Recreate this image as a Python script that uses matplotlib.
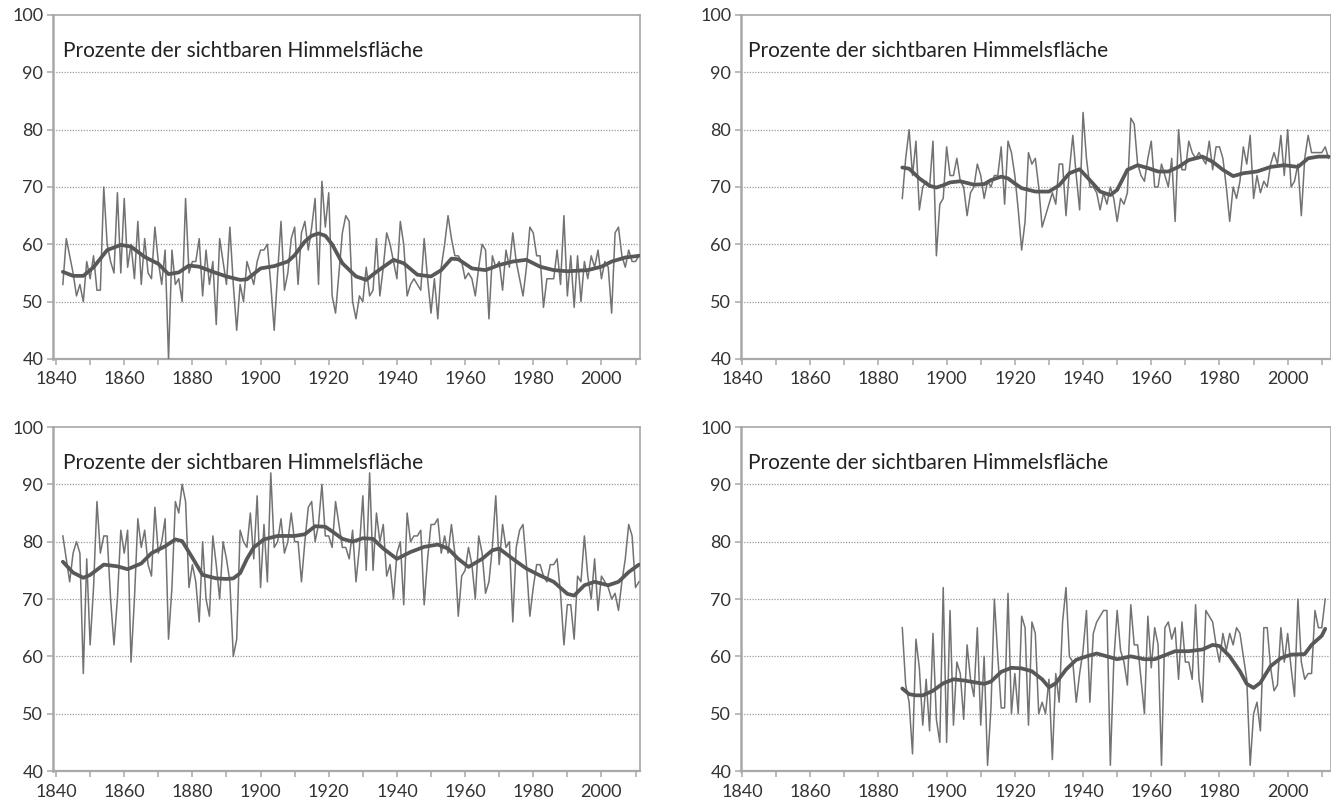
import numpy as np
import matplotlib
matplotlib.use("Agg")
import matplotlib.pyplot as plt

plt.rcParams['font.family'] = ['Lato', 'DejaVu Sans']

TITLE = "Prozente der sichtbaren Himmelsfläche"

## yearly values ##
tl_start = 1842
tl_values = [
    53, 61, 58, 55, 51, 53, 50, 57, 54, 58,
    52, 52, 70, 60, 57, 55, 69, 55, 68, 56,
    60, 54, 64, 53, 61, 55, 54, 63, 57, 53,
    59, 40, 59, 53, 54, 50, 68, 55, 57, 57,
    61, 51, 59, 53, 57, 46, 61, 57, 53, 63,
    53, 45, 53, 50, 57, 55, 53, 57, 59, 59,
    60, 53, 45, 55, 64, 52, 55, 61, 63, 53,
    62, 64, 59, 63, 68, 53, 71, 63, 69, 51,
    48, 55, 62, 65, 64, 50, 47, 51, 50, 56,
    51, 52, 61, 51, 56, 62, 60, 57, 54, 64,
    60, 51, 53, 54, 53, 52, 61, 54, 48, 54,
    47, 56, 60, 65, 61, 58, 58, 57, 54, 55,
    54, 51, 56, 60, 59, 47, 58, 56, 57, 52,
    59, 56, 62, 57, 54, 51, 56, 63, 62, 58,
    58, 49, 54, 54, 54, 59, 53, 65, 51, 58,
    49, 58, 50, 57, 54, 58, 56, 59, 54, 57,
    56, 48, 62, 63, 58, 56, 59, 57, 57, 58,
]
tl_smooth_years = [1842, 1845, 1848, 1851, 1855, 1859, 1862, 1866, 1870, 1873,
                   1876, 1879, 1882, 1886, 1890, 1894, 1896, 1900, 1904, 1908,
                   1910, 1913, 1915, 1917, 1919, 1921, 1924, 1928, 1931, 1934,
                   1939, 1942, 1946, 1950, 1953, 1956, 1958, 1962, 1966, 1970,
                   1974, 1978, 1982, 1986, 1990, 1996, 2000, 2003, 2007, 2011]
tl_smooth = [55.2, 54.5, 54.5, 56.0, 59.0, 59.9, 59.6, 57.8, 56.6, 54.8,
             55.1, 56.3, 56.1, 55.2, 54.4, 53.8, 53.9, 55.8, 56.2, 57.0,
             58.1, 60.5, 61.5, 61.9, 61.5, 60.0, 56.7, 54.4, 53.8, 55.2,
             57.3, 56.7, 54.7, 54.4, 55.5, 57.5, 57.4, 55.8, 55.5, 56.4,
             57.0, 57.3, 56.1, 55.5, 55.3, 55.5, 56.1, 57.0, 57.7, 58.0]

tr_start = 1887
tr_values = [
    68, 75, 80, 72, 78, 66, 70, 71, 70, 78,
    58, 67, 68, 77, 72, 72, 75, 71, 70, 65,
    69, 70, 74, 72, 68, 71, 70, 72, 72, 77,
    67, 78, 76, 72, 66, 59, 64, 76, 74, 75,
    70, 63, 65, 67, 69, 67, 74, 74, 65, 73,
    79, 72, 66, 83, 75, 70, 70, 69, 66, 69,
    67, 70, 68, 64, 68, 67, 69, 82, 81, 74,
    72, 71, 75, 78, 70, 70, 74, 72, 70, 75,
    64, 80, 73, 73, 78, 76, 75, 76, 75, 74,
    78, 73, 77, 77, 75, 70, 64, 70, 68, 71,
    77, 74, 79, 68, 72, 69, 71, 70, 74, 76,
    74, 79, 72, 80, 70, 71, 74, 65, 75, 79,
    76, 76, 76, 76, 77, 75,
]
tr_smooth_years = [1887, 1889, 1892, 1895, 1897, 1899, 1901, 1904, 1908, 1911,
                   1913, 1916, 1918, 1920, 1922, 1926, 1930, 1933, 1936, 1939,
                   1942, 1945, 1948, 1950, 1953, 1956, 1959, 1962, 1965, 1968,
                   1971, 1975, 1978, 1981, 1984, 1987, 1991, 1995, 1999, 2003,
                   2006, 2009, 2012]
tr_smooth = [73.4, 73.2, 71.5, 70.2, 69.9, 70.3, 70.8, 71.0, 70.4, 70.5,
             71.2, 71.8, 71.5, 70.6, 69.8, 69.2, 69.2, 70.3, 72.4, 73.1,
             71.2, 69.2, 68.6, 69.5, 73.0, 73.8, 73.3, 72.7, 72.7, 73.5,
             74.7, 75.3, 74.4, 73.0, 71.9, 72.4, 72.7, 73.5, 73.8, 73.5,
             75.0, 75.3, 75.3]

bl_start = 1842
bl_values = [
    81, 77, 73, 78, 80, 78, 57, 77, 62, 72,
    87, 78, 81, 81, 70, 62, 70, 82, 78, 82,
    59, 70, 84, 79, 82, 76, 74, 86, 78, 80,
    84, 63, 72, 87, 85, 90, 87, 72, 76, 73,
    66, 80, 70, 67, 81, 76, 70, 80, 77, 73,
    60, 63, 82, 80, 79, 85, 77, 88, 72, 83,
    73, 92, 79, 80, 84, 78, 80, 85, 80, 80,
    73, 80, 86, 87, 80, 83, 90, 81, 81, 79,
    87, 83, 79, 79, 77, 82, 73, 79, 88, 75,
    92, 75, 85, 80, 83, 74, 76, 70, 78, 80,
    69, 85, 80, 81, 81, 82, 69, 77, 83, 83,
    84, 78, 81, 78, 83, 78, 67, 74, 75, 79,
    76, 70, 81, 78, 71, 73, 79, 88, 76, 83,
    79, 80, 66, 79, 82, 83, 76, 67, 72, 76,
    76, 74, 73, 76, 76, 77, 71, 62, 69, 69,
    63, 74, 73, 81, 74, 70, 77, 68, 74, 73,
    72, 70, 71, 68, 73, 77, 83, 81, 72, 73,
]
bl_smooth_years = [1842, 1845, 1848, 1850, 1854, 1858, 1861, 1865, 1868, 1872,
                   1875, 1877, 1880, 1883, 1887, 1890, 1892, 1894, 1896, 1898,
                   1901, 1905, 1910, 1913, 1916, 1919, 1921, 1924, 1927, 1930,
                   1933, 1936, 1940, 1944, 1948, 1952, 1955, 1958, 1961, 1965,
                   1968, 1970, 1974, 1978, 1982, 1986, 1990, 1992, 1995, 1998,
                   2002, 2005, 2008, 2011]
bl_smooth = [76.5, 74.6, 73.7, 74.2, 76.0, 75.7, 75.2, 76.2, 78.0, 79.2,
             80.4, 80.1, 77.2, 74.2, 73.6, 73.5, 73.6, 74.5, 77.0, 79.0,
             80.4, 81.0, 81.0, 81.3, 82.7, 82.6, 81.8, 80.5, 80.0, 80.6,
             80.5, 78.8, 77.0, 78.2, 79.1, 79.5, 78.8, 77.0, 75.6, 77.0,
             78.5, 78.8, 77.0, 75.3, 74.1, 73.0, 70.9, 70.6, 72.4, 73.0,
             72.4, 73.0, 74.7, 76.0]

br_start = 1887
br_values = [
    65, 55, 52, 43, 63, 58, 48, 56, 47, 64,
    49, 45, 72, 45, 68, 48, 59, 57, 49, 62,
    56, 53, 65, 48, 60, 41, 51, 70, 60, 51,
    51, 71, 50, 57, 50, 67, 65, 48, 66, 64,
    50, 52, 50, 56, 42, 57, 52, 66, 72, 60,
    59, 52, 57, 61, 68, 52, 64, 66, 67, 68,
    68, 41, 59, 68, 61, 59, 55, 69, 62, 62,
    56, 50, 67, 58, 65, 62, 41, 65, 66, 63,
    65, 56, 66, 59, 59, 56, 69, 56, 52, 68,
    67, 66, 62, 59, 64, 61, 64, 62, 65, 64,
    60, 56, 41, 50, 52, 47, 65, 65, 58, 54,
    55, 65, 59, 64, 58, 53, 70, 59, 56, 57,
    57, 68, 65, 65, 70,
]
br_smooth_years = [1887, 1889, 1891, 1893, 1896, 1899, 1902, 1905, 1908, 1911,
                   1913, 1916, 1919, 1922, 1925, 1928, 1930, 1932, 1935, 1938,
                   1941, 1944, 1947, 1950, 1954, 1958, 1961, 1964, 1967, 1971,
                   1975, 1978, 1980, 1983, 1986, 1988, 1990, 1992, 1995, 1998,
                   2001, 2005, 2007, 2010, 2011]
br_smooth = [54.4, 53.4, 53.2, 53.2, 54.0, 55.3, 56.0, 55.8, 55.5, 55.2,
             55.6, 57.3, 58.0, 57.9, 57.4, 56.0, 54.6, 55.3, 57.7, 59.4,
             60.0, 60.5, 60.0, 59.5, 60.0, 59.5, 59.5, 60.2, 60.9, 60.9,
             61.2, 62.0, 61.8, 60.0, 57.4, 55.2, 54.5, 55.4, 58.3, 59.7,
             60.3, 60.4, 62.0, 63.6, 64.8]

assert len(tl_values) == 170 and len(bl_values) == 170
assert len(tr_values) == 126 and len(br_values) == 125

xtick_years = [1840, 1850, 1860, 1870, 1880, 1890, 1900, 1910, 1920,
               1930, 1940, 1950, 1960, 1970, 1980, 1990, 2000, 2010]
xtick_labels = ['1840', '', '1860', '', '1880', '', '1900', '', '1920',
                '', '1940', '', '1960', '', '1980', '', '2000', '']
ytick_values = [40, 50, 60, 70, 80, 90, 100]

RAW_COLOR = '#727272'
SMOOTH_COLOR = '#585858'
FRAME_COLOR = '#a8a8a8'


def draw_panel(ax, start, values, sm_years, sm_values, xlim, text_x):
    years = np.arange(start, start + len(values))
    ax.plot(years, values, color=RAW_COLOR, lw=1.1, zorder=3)
    ax.plot(sm_years, sm_values, color=SMOOTH_COLOR, lw=2.7,
            solid_capstyle='round', solid_joinstyle='round', zorder=4)

    ax.set_xlim(*xlim)
    ax.set_ylim(40, 100)
    ax.set_xticks(xtick_years)
    ax.set_xticklabels(xtick_labels)
    ax.set_yticks(ytick_values)
    ax.set_yticklabels([str(v) for v in ytick_values])

    for v in ytick_values[1:-1]:
        ax.axhline(v, color='#9a9a9a', lw=0.9, ls=(0, (1, 1.2)), zorder=1)

    for side in ['left', 'right', 'top', 'bottom']:
        ax.spines[side].set_color(FRAME_COLOR)
        ax.spines[side].set_linewidth(1.2)
    ax.spines['left'].set_linewidth(1.8)
    ax.spines['bottom'].set_linewidth(1.6)

    ax.tick_params(direction='out', length=4, width=1.1, color=FRAME_COLOR,
                   labelsize=13, labelcolor='#333333', pad=3)
    ax.tick_params(axis='x', pad=5)

    ax.text(text_x, 0.878, TITLE, transform=ax.transAxes, fontsize=15,
            color='#222222', va='baseline', ha='left', zorder=5)


fig = plt.figure(figsize=(13.31, 8.06), dpi=100)

ax_tl = fig.add_axes([0.0398, 0.5546, 0.4410, 0.4268])
ax_tr = fig.add_axes([0.5567, 0.5546, 0.4433, 0.4268])
ax_bl = fig.add_axes([0.0398, 0.0434, 0.4410, 0.4268])
ax_br = fig.add_axes([0.5567, 0.0434, 0.4433, 0.4268])

draw_panel(ax_tl, tl_start, tl_values, tl_smooth_years, tl_smooth, (1839.1, 2011.3), 0.017)
draw_panel(ax_tr, tr_start, tr_values, tr_smooth_years, tr_smooth, (1839.7, 2012.7), 0.012)
draw_panel(ax_bl, bl_start, bl_values, bl_smooth_years, bl_smooth, (1839.1, 2011.3), 0.017)
draw_panel(ax_br, br_start, br_values, br_smooth_years, br_smooth, (1839.7, 2012.7), 0.012)

fig.savefig('out.png', dpi=100)
